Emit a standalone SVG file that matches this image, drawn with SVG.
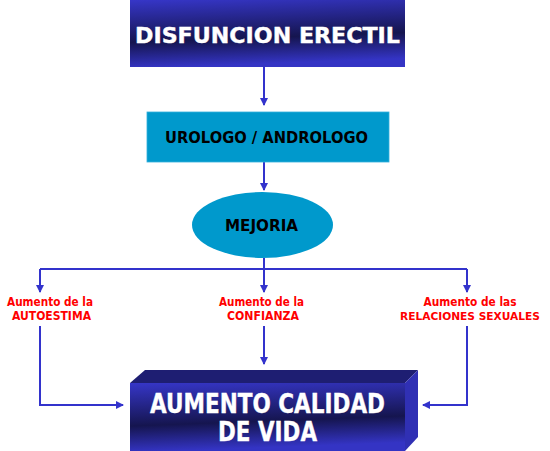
<svg xmlns="http://www.w3.org/2000/svg" width="550" height="451" viewBox="0 0 550 451">
<defs>
<linearGradient id="navy" x1="0" y1="0" x2="0.15" y2="1">
<stop offset="0" stop-color="#3636c8"/>
<stop offset="0.62" stop-color="#15154f"/>
<stop offset="1" stop-color="#3434c4"/>
</linearGradient>
<marker id="ah" viewBox="0 0 8 8" refX="7" refY="4" markerWidth="8" markerHeight="8" markerUnits="userSpaceOnUse" orient="auto">
<path d="M0,0 L8,4 L0,8 Z" fill="#3333cc"/>
</marker>
<style>
.cn{fill:none;stroke:#3333cc;stroke-width:2}
.wt{font-family:"DejaVu Sans",Verdana,sans-serif;font-weight:bold;fill:#ffffff;stroke:#ffffff;stroke-width:0.4;text-anchor:middle}
.bk{font-family:"DejaVu Sans",Verdana,sans-serif;font-weight:bold;fill:#000000;text-anchor:middle}
.rd{font-family:"DejaVu Sans",Verdana,sans-serif;font-weight:bold;fill:#ff0000;text-anchor:middle;font-size:12px}
</style>
</defs>
<rect width="550" height="451" fill="#ffffff"/>
<g id="connectors">
<path class="cn" d="M264,67 V105" marker-end="url(#ah)"/>
<path class="cn" d="M264,162 V190" marker-end="url(#ah)"/>
<path class="cn" d="M264,258 V269"/>
<path class="cn" d="M40,269 H467"/>
<path class="cn" d="M40,269 V292" marker-end="url(#ah)"/>
<path class="cn" d="M264,269 V292" marker-end="url(#ah)"/>
<path class="cn" d="M467,269 V292" marker-end="url(#ah)"/>
<path class="cn" d="M40,326 V405 H123" marker-end="url(#ah)"/>
<path class="cn" d="M264,326 V364" marker-end="url(#ah)"/>
<path class="cn" d="M467,326 V405 H423" marker-end="url(#ah)"/>
</g>
<g id="disfuncion">
<rect x="130" y="0" width="275" height="67" fill="url(#navy)"/>
<text class="wt" x="267.5" y="43" font-size="22" textLength="265" lengthAdjust="spacingAndGlyphs">DISFUNCION ERECTIL</text>
</g>
<g id="urologo">
<rect x="147" y="112" width="242" height="50" fill="#0099cc" stroke="#33b0dd" stroke-width="0.8"/>
<text class="bk" x="266.5" y="143" font-size="15" textLength="203" lengthAdjust="spacingAndGlyphs">UROLOGO / ANDROLOGO</text>
</g>
<g id="mejoria">
<ellipse cx="262.5" cy="225" rx="70.5" ry="33" fill="#0099cc"/>
<text class="bk" x="261.5" y="231" font-size="16" textLength="73" lengthAdjust="spacingAndGlyphs">MEJORIA</text>
</g>
<g id="autoestima">
<text class="rd" x="50" y="306" textLength="86" lengthAdjust="spacingAndGlyphs">Aumento de la</text>
<text class="rd" x="51.5" y="320" textLength="79" lengthAdjust="spacingAndGlyphs">AUTOESTIMA</text>
</g>
<g id="confianza">
<text class="rd" x="261.5" y="306" textLength="85" lengthAdjust="spacingAndGlyphs">Aumento de la</text>
<text class="rd" x="263" y="320" textLength="72" lengthAdjust="spacingAndGlyphs">CONFIANZA</text>
</g>
<g id="relaciones">
<text class="rd" x="470" y="306" textLength="93" lengthAdjust="spacingAndGlyphs">Aumento de las</text>
<text class="rd" x="470" y="320" font-size="11" style="font-size:11px" textLength="140" lengthAdjust="spacingAndGlyphs">RELACIONES SEXUALES</text>
</g>
<g id="calidad">
<polygon points="130,383 145,370 418,370 405,383" fill="#1e1e72"/>
<polygon points="405,383 418,370 418,437 405,451" fill="#3030b4"/>
<rect x="130" y="383" width="275" height="68" fill="url(#navy)"/>
<text class="wt" x="267.5" y="413" font-size="26" textLength="235" lengthAdjust="spacingAndGlyphs">AUMENTO CALIDAD</text>
<text class="wt" x="267.5" y="441" font-size="26" textLength="99" lengthAdjust="spacingAndGlyphs">DE VIDA</text>
</g>
</svg>
